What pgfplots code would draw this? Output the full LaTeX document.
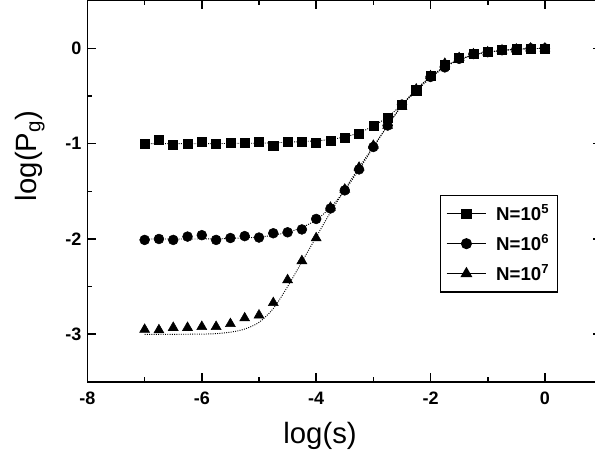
\documentclass[border=0pt]{standalone}
\usepackage{fontspec}
\setmainfont{Liberation Sans}
\usepackage{pgfplots}
\pgfplotsset{compat=1.18}
\begin{document}
\begin{tikzpicture}
\begin{axis}[
  name=ax,
  scale only axis,
  width=386pt, height=286pt,
  xmin=-8, xmax=1, ymin=-3.5, ymax=0.5,
  xtick={-8,-6,-4,-2,0}, ytick={-3,-2,-1,0},
  minor xtick={-7,-5,-3,-1,1}, minor ytick={-3.5,-2.5,-1.5,-0.5},
  tick align=inside,
  major tick length=6.5pt, minor tick length=3.5pt,
  xtick pos=both, ytick pos=both,
  xticklabel pos=lower, yticklabel pos=left,
  axis line style={line width=1.2pt,black},
  major tick style={line width=1.2pt,black},
  minor tick style={line width=1.2pt,black},
  /pgf/number format/assume math mode=true,
  tick label style={font=\bfseries\fontsize{13.5}{15}\selectfont},
  xticklabel style={yshift=-4pt},
  yticklabel style={xshift=-1pt},
  xlabel={log(s)}, ylabel={log(P\textsubscript{g})},
  label style={font=\fontsize{22}{26}\selectfont},
  xlabel style={at={(axis description cs:0.452,-0.142)},anchor=center},
  ylabel style={at={(axis description cs:-0.112,0.593)},anchor=center},
  legend style={at={(axis description cs:0.914,0.491)},anchor=north east,
    draw=black,line width=0.9pt,font=\bfseries\fontsize{14}{16}\selectfont,
    row sep=5pt,column sep=5pt,inner xsep=4pt,inner ysep=5pt},
  legend cell align=left,
  legend image code/.code={%
    \draw[solid,black,line width=0.7pt] (0cm,0cm) -- (1.05cm,0cm);
    \draw[#1,solid,only marks] plot coordinates {(0.525cm,0cm)};
  },
]
% fitted curves (dotted)
\addplot[black,densely dotted,line width=0.7pt,smooth,forget plot] coordinates {
(-7,-1) (-6,-1) (-5,-0.995) (-4.5,-0.985) (-4,-0.97) (-3.75,-0.955) (-3.5,-0.93)
(-3.25,-0.885) (-3,-0.815) (-2.75,-0.72) (-2.5,-0.59) (-2.25,-0.45) (-2,-0.31)
(-1.75,-0.2) (-1.5,-0.12) (-1.25,-0.07) (-1,-0.04) (-0.5,-0.01) (0,0)};
\addplot[black,densely dotted,line width=0.7pt,smooth,forget plot] coordinates {
(-7,-2) (-6,-2) (-5.5,-1.995) (-5,-1.98) (-4.75,-1.96) (-4.5,-1.93) (-4.25,-1.88)
(-4,-1.8) (-3.75,-1.67) (-3.5,-1.49) (-3.25,-1.27) (-3,-1.04) (-2.75,-0.81)
(-2.5,-0.6) (-2.25,-0.43) (-2,-0.3) (-1.75,-0.19) (-1.5,-0.12) (-1.25,-0.07)
(-1,-0.04) (-0.5,-0.01) (0,0)};
\addplot[black,densely dotted,line width=0.7pt,smooth,forget plot] coordinates {
(-7,-3) (-6.5,-3) (-6,-2.998) (-5.75,-2.993) (-5.5,-2.978) (-5.25,-2.945) (-5,-2.875)
(-4.75,-2.73) (-4.5,-2.5) (-4.25,-2.24) (-4,-1.98) (-3.75,-1.72) (-3.5,-1.48)
(-3.25,-1.25) (-3,-1.03) (-2.75,-0.81) (-2.5,-0.6) (-2.25,-0.43) (-2,-0.3)
(-1.75,-0.19) (-1.5,-0.12) (-1.25,-0.07) (-1,-0.04) (-0.5,-0.01) (0,0)};
% data
\addplot[black,only marks,mark=square*,mark size=3.4pt] coordinates {
(-7,-1.00) (-6.75,-0.955) (-6.5,-1.01) (-6.25,-1.00) (-6,-0.98) (-5.75,-1.00)
(-5.5,-0.99) (-5.25,-0.99) (-5,-0.98) (-4.75,-1.02) (-4.5,-0.98) (-4.25,-0.98)
(-4,-0.99) (-3.75,-0.965) (-3.5,-0.94) (-3.25,-0.90) (-3,-0.81) (-2.75,-0.73)
(-2.5,-0.59) (-2.25,-0.44) (-2,-0.29) (-1.75,-0.17) (-1.5,-0.10) (-1.25,-0.06)
(-1,-0.04) (-0.75,-0.02) (-0.5,-0.01) (-0.25,0.0) (0,0.0)};
\addlegendentry{N=10\textsuperscript{5}}
\addplot[black,only marks,mark=*,mark size=3.7pt] coordinates {
(-7,-2.01) (-6.75,-2.00) (-6.5,-2.01) (-6.25,-1.975) (-6,-1.96) (-5.75,-2.01)
(-5.5,-1.99) (-5.25,-1.97) (-5,-1.985) (-4.75,-1.94) (-4.5,-1.93) (-4.25,-1.90)
(-4,-1.79) (-3.75,-1.68) (-3.5,-1.49) (-3.25,-1.27) (-3,-1.035) (-2.75,-0.81)
(-2.5,-0.59) (-2.25,-0.44) (-2,-0.30) (-1.75,-0.20) (-1.5,-0.11) (-1.25,-0.06)
(-1,-0.04) (-0.75,-0.02) (-0.5,-0.01) (-0.25,0.0) (0,0.0)};
\addlegendentry{N=10\textsuperscript{6}}
\addplot[black,only marks,mark=triangle*,mark size=4.3pt] coordinates {
(-7,-2.95) (-6.75,-2.955) (-6.5,-2.93) (-6.25,-2.93) (-6,-2.92) (-5.75,-2.92)
(-5.5,-2.89) (-5.25,-2.83) (-5,-2.80) (-4.75,-2.67) (-4.5,-2.43) (-4.25,-2.23)
(-4,-1.99) (-3.75,-1.67) (-3.5,-1.48) (-3.25,-1.25) (-3,-1.02) (-2.75,-0.81)
(-2.5,-0.61) (-2.25,-0.43) (-2,-0.29) (-1.75,-0.16) (-1.5,-0.10) (-1.25,-0.06)
(-1,-0.04) (-0.75,-0.02) (-0.5,-0.01) (-0.25,0.0) (0,0.0)};
\addlegendentry{N=10\textsuperscript{7}}
\end{axis}
\pgfresetboundingbox
\path[use as bounding box] ([xshift=-65.6pt,yshift=-60pt]ax.south west) rectangle ([xshift=-5.3pt,yshift=0.5pt]ax.north east);
\end{tikzpicture}
\end{document}
